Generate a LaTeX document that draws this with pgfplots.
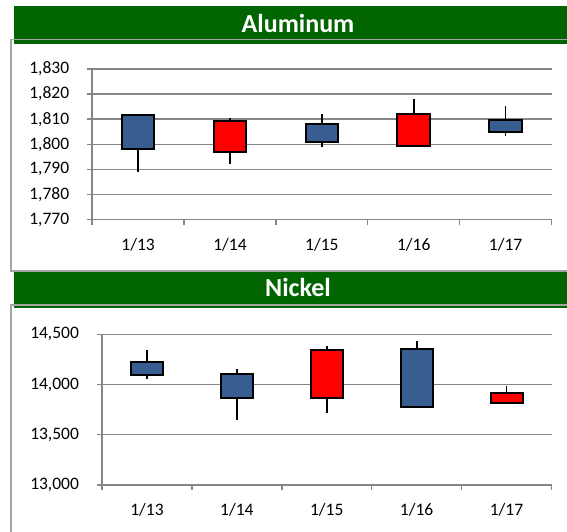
\documentclass[border=0pt]{standalone}
\usepackage{fontspec}
\setmainfont{Carlito}
\usepackage{pgfplots}
\usepackage{pgfplotstable}
\pgfplotsset{compat=1.18}

\definecolor{hdrgreen}{RGB}{0,100,0}
\definecolor{candleblue}{RGB}{56,94,145}
\definecolor{candlered}{RGB}{255,0,0}
\definecolor{axgray}{RGB}{134,134,134}
\definecolor{framegray}{RGB}{165,165,165}

% day, low, box bottom, box top, high
\pgfplotstableread{
day low boxlo boxhi high
0 1788.8 1798.1 1811.5 1811.5
1 1792.3 1797.1 1809.1 1810.6
2 1798.8 1801.0 1808.2 1812.1
3 1799.2 1799.2 1812.2 1818.2
4 1803.1 1805.0 1809.8 1815.1
}\alum

\pgfplotstableread{
day low boxlo boxhi high
0 14059 14092 14225 14344
1 13648 13870 14109 14152
2 13714 13870 14341 14381
3 13764 13774 14351 14434
4 13803 13813 13916 13983
}\nickel

\pgfplotsset{
  candlechart/.style={
    scale only axis,
    xmin=-0.5, xmax=4.5,
    xtick={-0.5,0.5,1.5,2.5,3.5,4.5},
    x tick label as interval,
    xticklabels={1/13,1/14,1/15,1/16,1/17},
    axis lines*=left,
    axis line style={draw=axgray, line width=1.4pt, -},
    tick align=outside,
    major tick length=5pt,
    tick style={draw=axgray, line width=1.4pt},
    ymajorgrids,
    grid style={draw=axgray, line width=1.4pt},
    scaled y ticks=false,
    /pgf/number format/assume math mode=true,
    /pgf/number format/1000 sep={,},
    tick label style={font=\fontsize{17.5}{20}\selectfont, text=black},
    yticklabel style={xshift=-14.5pt},
    xticklabel style={yshift=-10pt},
  },
  wick/.style={draw=black, line width=1.8pt},
  body/.style={draw=black, line width=2pt, fill=#1, line join=miter},
}

% one candle: table, row, fill colour
\newcommand{\candle}[3]{%
  \pgfplotstablegetelem{#2}{low}\of#1\let\cLow\pgfplotsretval
  \pgfplotstablegetelem{#2}{boxlo}\of#1\let\cBlo\pgfplotsretval
  \pgfplotstablegetelem{#2}{boxhi}\of#1\let\cBhi\pgfplotsretval
  \pgfplotstablegetelem{#2}{high}\of#1\let\cHigh\pgfplotsretval
  \pgfmathsetmacro\xl{#2-0.1775}%
  \pgfmathsetmacro\xr{#2+0.1775}%
  \edef\doCandle{%
    \noexpand\addplot[wick] coordinates {(#2,\cLow) (#2,\cHigh)};
    \noexpand\addplot[body=#3] coordinates {(\xl,\cBlo) (\xr,\cBlo) (\xr,\cBhi) (\xl,\cBhi)} -- cycle;
  }%
  \doCandle
}

\begin{document}
\begin{tikzpicture}
\useasboundingbox (0pt,0pt) rectangle (567pt,-532pt);

% header bars
\fill[hdrgreen] (13.5pt,-6pt) rectangle (567pt,-44pt);
\fill[hdrgreen] (13.5pt,-270.5pt) rectangle (567pt,-308pt);

% chart frames
\draw[framegray, line width=1.5pt] (11pt,-39.5pt) rectangle (620pt,-271pt);
\draw[framegray, line width=1.5pt] (11pt,-305pt) rectangle (620pt,-560pt);

\node[anchor=base, text=white, font=\fontsize{26}{30}\selectfont\bfseries] at (298pt,-32.7pt) {Aluminum};
\node[anchor=base, text=white, font=\fontsize{26}{30}\selectfont\bfseries] at (298pt,-296.7pt) {Nickel};

\begin{axis}[candlechart,
  at={(92.2pt,-219.5pt)}, anchor=south west,
  width=459.3pt, height=150.5pt,
  ymin=1770, ymax=1830,
  ytick={1770,1780,...,1830},
]
\candle{\alum}{0}{candleblue}
\candle{\alum}{1}{candlered}
\candle{\alum}{2}{candleblue}
\candle{\alum}{3}{candlered}
\candle{\alum}{4}{candleblue}
\end{axis}

\begin{axis}[candlechart,
  at={(102pt,-485pt)}, anchor=south west,
  width=449.5pt, height=150.7pt,
  ymin=13000, ymax=14500,
  ytick={13000,13500,14000,14500},
]
\candle{\nickel}{0}{candleblue}
\candle{\nickel}{1}{candleblue}
\candle{\nickel}{2}{candlered}
\candle{\nickel}{3}{candleblue}
\candle{\nickel}{4}{candlered}
\end{axis}
\end{tikzpicture}
\end{document}
